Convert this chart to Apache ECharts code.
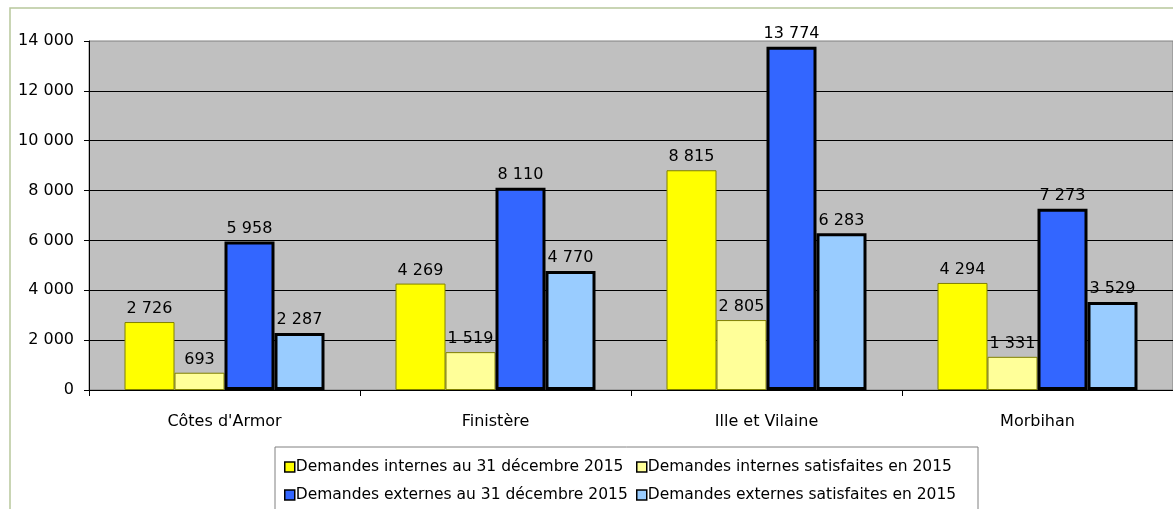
<!DOCTYPE html>
<html>
<head>
<meta charset="utf-8">
<script src="https://cdn.jsdelivr.net/npm/echarts@6/dist/echarts.min.js"></script>
<style>
  html, body { margin: 0; padding: 0; background: #fff; }
  #main { width: 1173px; height: 509px; }
</style>
</head>
<body>
<div id="main"></div>
<script>
var departements = ['Côtes d\'Armor', 'Finistère', 'Ille et Vilaine', 'Morbihan'];
var internesAu31 = [2726, 4269, 8815, 4294];
var internesSatisfaites = [693, 1519, 2805, 1331];
var externesAu31 = [5958, 8110, 13774, 7273];
var externesSatisfaites = [2287, 4770, 6283, 3529];
var seriesNames = [
    'Demandes internes au 31 décembre 2015',
    'Demandes internes satisfaites en 2015',
    'Demandes externes au 31 décembre 2015',
    'Demandes externes satisfaites en 2015'
];

var font = 'DejaVu Sans, sans-serif';

function espace(v) {
    return String(v).replace(/\B(?=(\d{3})+(?!\d))/g, ' ');
}

function barre(name, data, color, border, bw) {
    return {
        name: name,
        type: 'bar',
        data: data,
        barWidth: 50,
        barGap: '0%',
        itemStyle: { color: color, borderColor: border, borderWidth: bw },
        label: {
            show: true,
            position: 'top',
            distance: 5,
            color: '#000',
            fontFamily: font,
            fontSize: 16,
            formatter: function (p) { return espace(p.value); }
        }
    };
}

var legendeCommune = {
    orient: 'vertical',
    top: 454,
    itemGap: 12,
    itemWidth: 10,
    itemHeight: 10,
    icon: 'rect',
    textStyle: { color: '#000', fontFamily: font, fontSize: 15.5, padding: [0, 0, 0, -4] },
    itemStyle: { borderColor: '#000', borderWidth: 1.5 },
    z: 5
};

var chart = echarts.init(document.getElementById('main'));
var option = {
    backgroundColor: '#fff',
    animation: false,
    graphic: [
        {
            type: 'rect',
            shape: { x: 10, y: 8, width: 1200, height: 560 },
            style: { fill: 'none', stroke: '#b8c79c', lineWidth: 1.5 },
            z: 0
        },
        {
            type: 'rect',
            shape: { x: 275, y: 447, width: 703, height: 80 },
            style: { fill: '#fff', stroke: '#808080', lineWidth: 1 },
            z: 1
        }
    ],
    grid: {
        left: 89,
        top: 41,
        width: 1090,
        height: 349,
        show: true,
        backgroundColor: '#c0c0c0',
        borderColor: '#808080',
        borderWidth: 1
    },
    legend: [
        Object.assign({}, legendeCommune, { left: 279, data: [seriesNames[0], seriesNames[2]] }),
        Object.assign({}, legendeCommune, { left: 631, data: [seriesNames[1], seriesNames[3]] })
    ],
    xAxis: {
        type: 'category',
        data: departements,
        axisLine: { lineStyle: { color: '#000', width: 1 } },
        axisTick: { show: true, length: 6, lineStyle: { color: '#000' } },
        axisLabel: { color: '#000', fontFamily: font, fontSize: 16, margin: 24 }
    },
    yAxis: {
        type: 'value',
        min: 0,
        max: 14000,
        interval: 2000,
        axisLine: { show: true, lineStyle: { color: '#000', width: 1 } },
        axisTick: { show: true, length: 5, lineStyle: { color: '#000' } },
        axisLabel: {
            color: '#000',
            fontFamily: font,
            fontSize: 16,
            margin: 15,
            formatter: function (v) { return espace(v); }
        },
        splitLine: { show: true, showMaxLine: false, lineStyle: { color: '#000', width: 1 } }
    },
    series: [
        barre(seriesNames[0], internesAu31, '#ffff00', '#808000', 1),
        barre(seriesNames[1], internesSatisfaites, '#ffff99', '#808000', 1),
        barre(seriesNames[2], externesAu31, '#3366ff', '#000', 3),
        barre(seriesNames[3], externesSatisfaites, '#99ccff', '#000', 3)
    ]
};
chart.setOption(option);
</script>
</body>
</html>
